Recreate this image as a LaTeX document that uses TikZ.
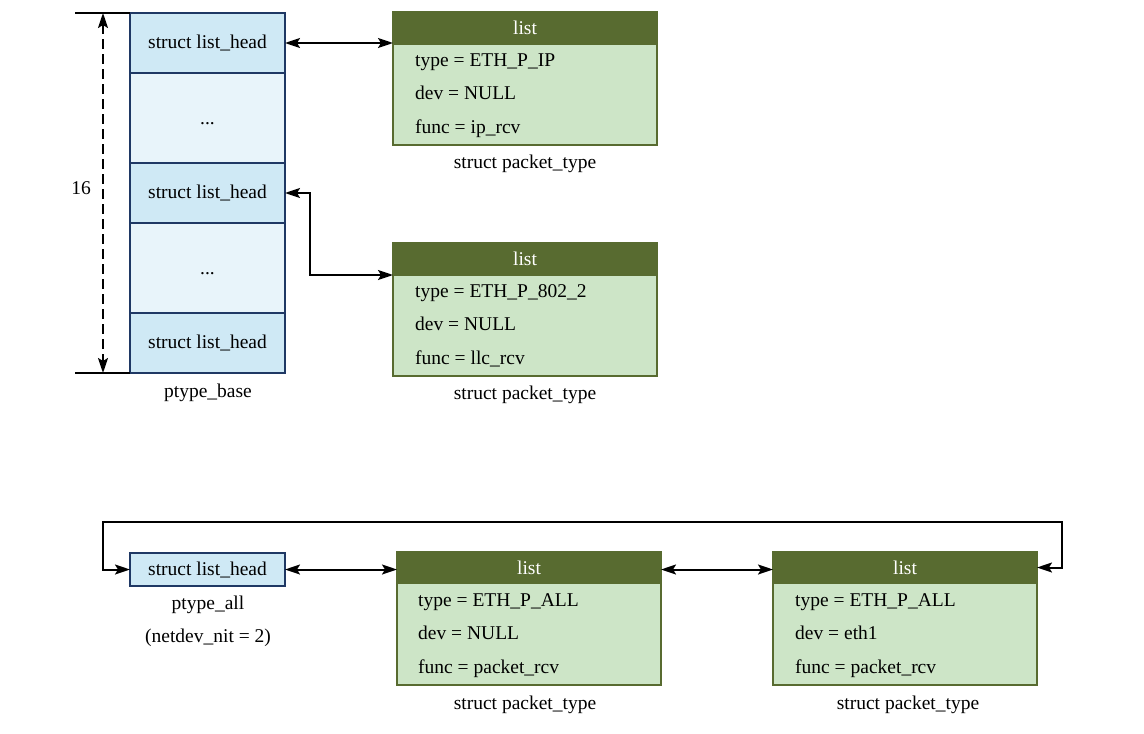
\documentclass[tikz,border=0pt]{standalone}
\usepackage{fontspec}
\setmainfont{Liberation Serif}
\usetikzlibrary{arrows.meta}
\definecolor{hdrgreen}{RGB}{88,107,48}
\definecolor{bodygreen}{RGB}{205,229,199}
\definecolor{cellblue}{RGB}{207,233,245}
\definecolor{cellpale}{RGB}{232,244,250}
\definecolor{navy}{RGB}{31,56,100}
\begin{document}
\begin{tikzpicture}[x=1pt,y=-1pt,
  font=\fontsize{19.5}{22}\selectfont,
  cell/.style={draw=navy, line width=1.8pt, fill=cellblue, minimum width=155pt, minimum height=60pt, inner sep=0pt, outer sep=0pt, anchor=north west},
  pale/.style={cell, fill=cellpale, minimum height=90pt, text height=12pt, text depth=0pt},
  hdr/.style={draw=hdrgreen, line width=1.8pt, fill=hdrgreen, text=white, minimum width=264pt, minimum height=32pt, inner sep=0pt, outer sep=0pt, anchor=north west},
  bodybox/.style={draw=hdrgreen, line width=1.8pt, fill=bodygreen, minimum width=264pt, minimum height=101pt, inner sep=0pt, outer sep=0pt, anchor=north west},
  rowtxt/.style={anchor=base west, inner sep=0pt},
  lbl/.style={inner sep=0pt},
  conn/.style={line width=2pt, {Stealth[length=15pt,width=10pt,inset=3pt]}-{Stealth[length=15pt,width=10pt,inset=3pt]}},
  dim/.style={line width=2pt, dash pattern=on 10pt off 5pt, {Stealth[length=15pt,width=10pt,inset=3pt]}-{Stealth[length=15pt,width=10pt,inset=3pt]}},
  plain/.style={line width=2pt}]
\useasboundingbox (0,0) rectangle (1144,734);

% ptype_base column
\node[cell] (c1) at (130,13) {struct list\_head};
\node[pale] (c2) at (130,73) {...};
\node[cell] (c3) at (130,163) {struct list\_head};
\node[pale] (c4) at (130,223) {...};
\node[cell] (c5) at (130,313) {struct list\_head};
\node[lbl] (pb) at (208,393) {ptype\_base};

% dimension
\coordinate (dt) at (75,13);
\coordinate (db) at (75,373);
\coordinate (at) at (103,13);
\coordinate (ab) at (103,373);
\draw[plain] (dt) -- (c1.north west);
\draw[plain] (db) -- (c5.south west);
\draw[dim] (at) -- (ab);
\node[lbl] (n16) at (81,188) {16};

% packet box 1
\node[hdr] (h1) at (393,12) {list};
\node[bodybox] (b1) at (393,44) {};
\node[rowtxt] (r1a) at (415,66) {type = ETH\_P\_IP};
\node[rowtxt] (r1b) at (415,99) {dev = NULL};
\node[rowtxt] (r1c) at (415,133) {func = ip\_rcv};
\node[lbl] (s1) at (525,164) {struct packet\_type};

% packet box 2
\node[hdr] (h2) at (393,243) {list};
\node[bodybox] (b2) at (393,275) {};
\node[rowtxt] (r2a) at (415,297) {type = ETH\_P\_802\_2};
\node[rowtxt] (r2b) at (415,330) {dev = NULL};
\node[rowtxt] (r2c) at (415,364) {func = llc\_rcv};
\node[lbl] (s2) at (525,395) {struct packet\_type};

\draw[conn] (c1.east) -- (c1.east -| h1.west);
\draw[conn] (c3.east) -- ++(25,0) |- (h2.south west);

% bottom: ptype_all
\node[cell, minimum height=33pt] (pa) at (130,553) {struct list\_head};
\node[lbl] (pal) at (208,605) {ptype\_all};
\node[lbl] (pan) at (208,638) {(netdev\_nit = 2)};

% packet box 3
\node[hdr, minimum height=31pt] (h3) at (397,552) {list};
\node[bodybox, minimum height=102pt] (b3) at (397,583) {};
\node[rowtxt] (r3a) at (418,606) {type = ETH\_P\_ALL};
\node[rowtxt] (r3b) at (418,639) {dev = NULL};
\node[rowtxt] (r3c) at (418,673) {func = packet\_rcv};
\node[lbl] (s3) at (525,705) {struct packet\_type};

% packet box 4
\node[hdr, minimum height=31pt] (h4) at (773,552) {list};
\node[bodybox, minimum height=102pt] (b4) at (773,583) {};
\node[rowtxt] (r4a) at (795,606) {type = ETH\_P\_ALL};
\node[rowtxt] (r4b) at (795,639) {dev = eth1};
\node[rowtxt] (r4c) at (795,673) {func = packet\_rcv};
\node[lbl] (s4) at (908,705) {struct packet\_type};

\draw[conn] (pa.east) -- (pa.east -| h3.west);
\draw[conn] (pa.east -| h3.east) -- (pa.east -| h4.west);
\coordinate (loopL) at (103,522);
\draw[conn] (h4.east) -- ++(25,0) |- (loopL) |- (pa.west);
\end{tikzpicture}
\end{document}
